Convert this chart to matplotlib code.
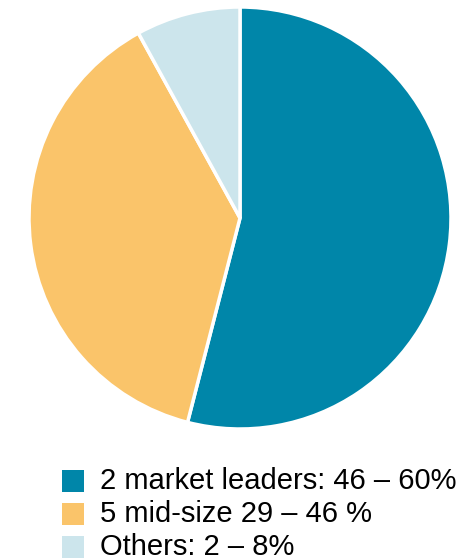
import matplotlib.pyplot as plt
from matplotlib.patches import Rectangle

plt.rcParams['font.family'] = ['Liberation Sans', 'DejaVu Sans']

labels = ['2 market leaders: 46 – 60%', '5 mid-size 29 – 46 %', 'Others: 2 – 8%']
shares = [54, 38, 8]
colors = ['#0086A9', '#FAC46A', '#CCE5EC']

fig = plt.figure(figsize=(4.77, 5.60), dpi=100)

# pie area
ax = fig.add_axes([29 / 477, 131 / 560, 422 / 477, 422 / 560])
ax.pie(shares, colors=colors, startangle=90, counterclock=False,
       wedgeprops=dict(edgecolor='white', linewidth=2.5))
ax.set_xlim(-1.0, 1.0)
ax.set_ylim(-1.0, 1.0)
ax.set_aspect('equal')
ax.axis('off')

# legend drawn by hand
row_y = [481, 514, 547]
for lab, col, y in zip(labels, colors, row_y):
    fig.patches.append(Rectangle((62 / 477, 1 - (y + 11) / 560), 22 / 477, 22 / 560,
                                 transform=fig.transFigure, facecolor=col,
                                 edgecolor='none'))
    fig.text(100 / 477, 1 - y / 560, lab, fontsize=21, va='center', ha='left',
             color='black')

fig.savefig('out.png', dpi=100)
